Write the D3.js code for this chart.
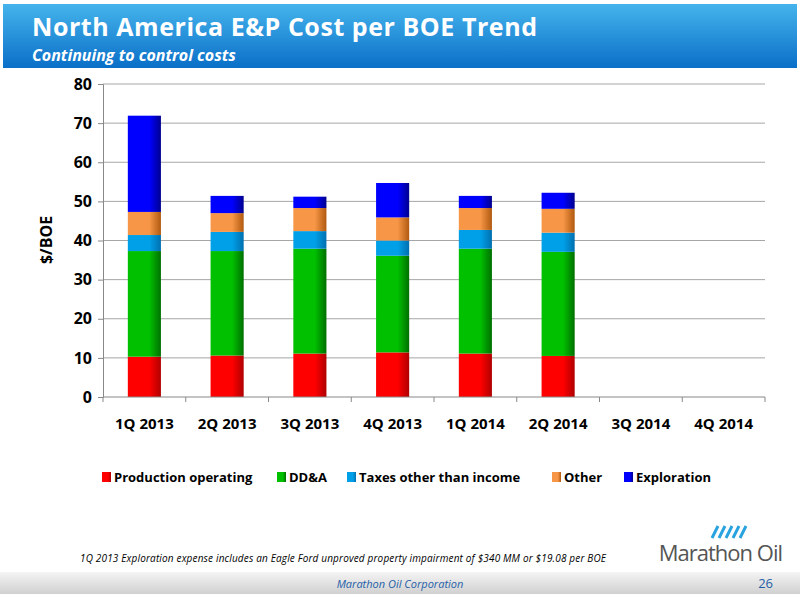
<!DOCTYPE html>
<html><head><meta charset="utf-8">
<script src="https://cdn.jsdelivr.net/npm/d3@7"></script>
<style>body{margin:0;background:#fff}svg{display:block}</style>
</head><body>
<svg id="chart" width="800" height="600"></svg>
<script>
// data
const quarters = ["1Q 2013","2Q 2013","3Q 2013","4Q 2013","1Q 2014","2Q 2014","3Q 2014","4Q 2014"];
const seriesNames = ["Production operating","DD&A","Taxes other than income","Other","Exploration"];
const production = [10.3,10.6,11.1,11.4,11.1,10.5,null,null];
const dda        = [27.0,26.7,26.8,24.7,26.8,26.6,null,null];
const taxes      = [4.1,4.9,4.5,3.9,4.8,4.9,null,null];
const other      = [5.9,4.8,5.9,5.9,5.6,6.1,null,null];
const exploration= [24.6,4.4,2.9,8.8,3.1,4.1,null,null];
const yTicks = [0,10,20,30,40,50,60,70,80];
const colors = ["#ff0000","#00c000","#00a0e8","#f79646","#0000ff"];
const darks  = ["#b00000","#007000","#0070b0","#b05a10","#000090"];

const svg = d3.select("#chart");
const defs = svg.append("defs");

// header band
const hg = defs.append("linearGradient").attr("id","hdr").attr("x1",0).attr("x2",0).attr("y1",0).attr("y2",1);
hg.append("stop").attr("offset","0%").attr("stop-color","#45b4ec");
hg.append("stop").attr("offset","100%").attr("stop-color","#0a6fc8");
svg.append("rect").attr("x",3).attr("y",4).attr("width",794).attr("height",64).attr("fill","url(#hdr)");
svg.append("text").attr("x",32).attr("y",36).attr("fill","#fff")
  .style("font","bold 25px 'Open Sans', sans-serif").attr("textLength",505)
  .text("North America E&P Cost per BOE Trend");
svg.append("text").attr("x",32).attr("y",61).attr("fill","#fff")
  .style("font","italic bold 16px 'Open Sans', sans-serif")
  .text("Continuing to control costs");

// bar gradients
colors.forEach((c,i) => {
  const g = defs.append("linearGradient").attr("id","g"+i);
  g.append("stop").attr("offset","0%").attr("stop-color",c);
  g.append("stop").attr("offset","65%").attr("stop-color",c);
  g.append("stop").attr("offset","100%").attr("stop-color",darks[i]);
});

const margin = {top:84, left:103, right:35, bottom:203};
const innerW = 800 - margin.left - margin.right;
const innerH = 600 - margin.top - margin.bottom;
const g = svg.append("g").attr("transform",`translate(${margin.left},${margin.top})`);

const x = d3.scaleBand().domain(quarters).range([0,innerW]).paddingInner(0.6).paddingOuter(0.3);
const y = d3.scaleLinear().domain([0,80]).range([innerH,0]);

g.append("g").selectAll("line").data(yTicks.slice(1)).join("line")
  .attr("x1",0).attr("x2",innerW).attr("y1",d=>y(d)).attr("y2",d=>y(d))
  .attr("stroke","#a6a6a6").attr("stroke-width",1);

const rows = quarters.map((q,i) => ({q, v:[production[i],dda[i],taxes[i],other[i],exploration[i]]}))
  .filter(r => r.v[0] != null)
  .map(r => { const o={q:r.q}; seriesNames.forEach((s,j)=>o[s]=r.v[j]); return o; });
const stack = d3.stack().keys(seriesNames)(rows);

g.selectAll("g.s").data(stack).join("g").attr("class","s")
  .attr("fill",(d,i)=>`url(#g${i})`)
  .selectAll("rect").data(d=>d).join("rect")
  .attr("x",d=>x(d.data.q)).attr("width",x.bandwidth())
  .attr("y",d=>y(d[1])).attr("height",d=>y(d[0])-y(d[1]));

const ya = g.append("g").call(d3.axisLeft(y).tickValues(yTicks).tickSize(5).tickPadding(6));
ya.selectAll("text").style("font","bold 16px 'Open Sans', sans-serif").attr("fill","#000");
ya.selectAll("line,path").attr("stroke","#888");

const step = innerW/quarters.length;
const xa = g.append("g").attr("transform",`translate(0,${innerH})`);
xa.append("line").attr("x1",0).attr("x2",innerW).attr("stroke","#888");
xa.selectAll("line.t").data(d3.range(quarters.length+1)).join("line").attr("class","t")
  .attr("x1",d=>d*step).attr("x2",d=>d*step).attr("y1",0).attr("y2",5).attr("stroke","#888");
xa.selectAll("text").data(quarters).join("text")
  .attr("x",d=>x(d)+x.bandwidth()/2).attr("y",32).attr("text-anchor","middle")
  .style("font","bold 15px 'Open Sans', sans-serif").text(d=>d);

svg.append("text").attr("transform","translate(52,240) rotate(-90)").attr("text-anchor","middle")
  .style("font","bold 16px 'Open Sans', sans-serif").text("$/BOE");

// legend
const legX = [102,277,347,552,624];
const lg = svg.append("g").selectAll("g").data(seriesNames).join("g")
  .attr("transform",(d,i)=>`translate(${legX[i]},478)`);
lg.append("rect").attr("x",0).attr("y",-6).attr("width",9).attr("height",10).attr("fill",(d,i)=>`url(#g${i})`);
lg.append("text").attr("x",12).attr("y",4).style("font","bold 13px 'Open Sans', sans-serif").text(d=>d);

// footnote
svg.append("text").attr("x",80).attr("y",562).style("font","italic 10px 'Open Sans', sans-serif")
  .attr("textLength",526)
  .text("1Q 2013 Exploration expense includes an Eagle Ford unproved property impairment of $340 MM or $19.08 per BOE");

// footer band
const fg = defs.append("linearGradient").attr("id","ftr").attr("x1",0).attr("x2",0).attr("y1",0).attr("y2",1);
fg.append("stop").attr("offset","0%").attr("stop-color","#f4f4f4");
fg.append("stop").attr("offset","100%").attr("stop-color","#d0d0d0");
svg.append("rect").attr("x",0).attr("y",572).attr("width",800).attr("height",22).attr("fill","url(#ftr)");
svg.append("text").attr("x",400).attr("y",588).attr("text-anchor","middle").attr("fill","#1f5fa8")
  .style("font","italic 11px 'Open Sans', sans-serif").text("Marathon Oil Corporation");
svg.append("text").attr("x",773).attr("y",588).attr("text-anchor","end").attr("fill","#1f5fa8")
  .style("font","13px 'Open Sans', sans-serif").text("26");

// logo
svg.append("text").attr("x",782).attr("y",561).attr("text-anchor","end").attr("fill","#555")
  .style("font","22px 'Open Sans', sans-serif").attr("letter-spacing",-1).text("Marathon Oil");
const lw = svg.append("g").attr("transform","translate(712,524)");
[0,7,14,21,28].forEach(o => lw.append("path")
  .attr("d",`M${o},14 l6,-12`).attr("stroke","#29a3df").attr("stroke-width",3).attr("fill","none"));
</script></body></html>
